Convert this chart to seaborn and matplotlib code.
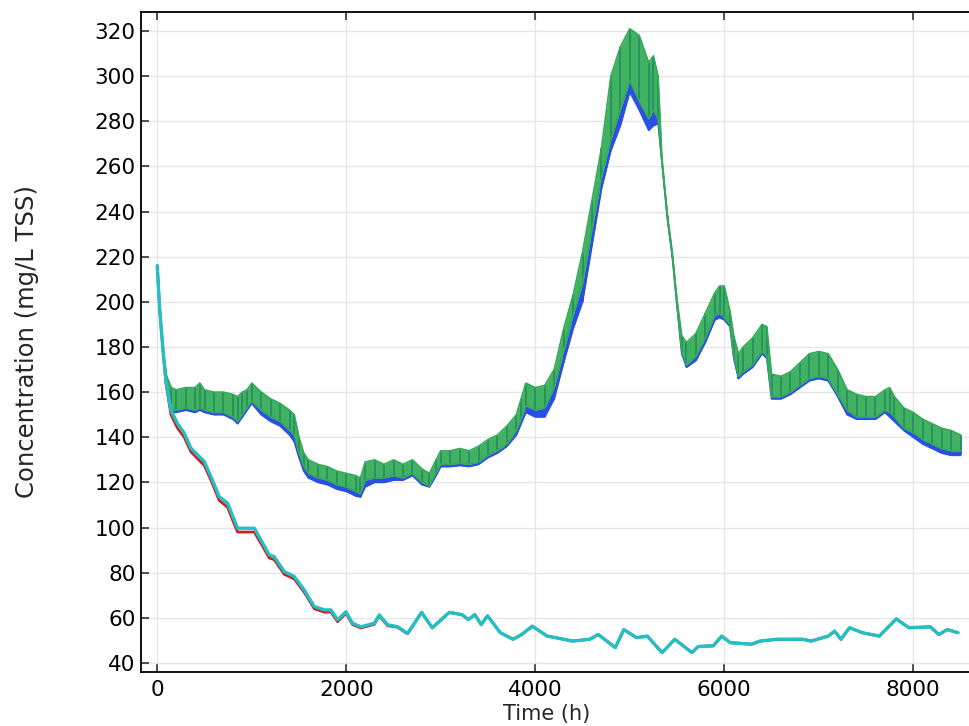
import matplotlib
matplotlib.use("Agg")
import matplotlib.pyplot as plt
import seaborn as sns

# lower pair (red / cyan)
times_low = [0, 25, 60, 92, 145, 215, 286, 357, 427, 498, 568, 656, 744, 815, 850, 921, 1027, 1097, 1185, 1238,
             1344, 1450, 1556, 1662, 1768, 1838, 1908, 1997, 2067, 2155, 2296, 2349, 2438, 2543, 2649, 2797, 2910, 3090, 3225, 3292,
             3360, 3428, 3495, 3630, 3765, 3856, 3968, 4126, 4216, 4396, 4576, 4667, 4847, 4937, 5072, 5185, 5342, 5477, 5657, 5725,
             5883, 5973, 6063, 6288, 6378, 6558, 6829, 6919, 7099, 7167, 7235, 7325, 7460, 7640, 7820, 7955, 8180, 8270, 8360, 8473]
cyan_vals = [216, 197, 179, 165, 152, 146, 141.8, 135.1, 132.2, 129.2, 122.6, 113.7, 110.8, 103.4, 99.7, 99.7, 99.7, 94.5, 87.9, 87.1,
             80.5, 78.3, 72.3, 65, 63.5, 63.5, 59.1, 62.7, 57.6, 56, 57.6, 61.3, 56.9, 56.1, 53.1, 62.4, 55.6, 62.4, 61.4, 59.2,
             61.4, 57, 60.9, 53.4, 50.5, 52.6, 56.3, 51.9, 51.2, 49.7, 50.5, 52.6, 46.8, 54.8, 51.2, 51.9, 44.6, 50.5, 44.6, 47.3,
             47.6, 51.9, 49, 48.3, 49.7, 50.5, 50.5, 49.7, 51.9, 54.1, 50.5, 55.6, 53.4, 51.9, 59.5, 55.6, 56, 52.6, 54.8, 53.4]
red_vals = [216, 197, 179, 164, 150, 144, 140, 133.5, 130.5, 127.5, 121, 112, 109, 101.5, 98, 98, 98, 93, 86.5, 85.8,
            79.3, 77.2, 71.3, 64, 62.5, 62.6, 58.3, 62, 57, 55.5, 57.1, 60.8, 56.5, 55.8, 52.9, 62.4, 55.6, 62.4, 61.4, 59.2,
            61.4, 57, 60.9, 53.4, 50.5, 52.6, 56.3, 51.9, 51.2, 49.7, 50.5, 52.6, 46.8, 54.8, 51.2, 51.9, 44.6, 50.5, 44.6, 47.3,
            47.6, 51.9, 49, 48.3, 49.7, 50.5, 50.5, 49.7, 51.9, 54.1, 50.5, 55.6, 53.4, 51.9, 59.5, 55.6, 56, 52.6, 54.8, 53.4]

# upper pair (blue / green): oscillation envelope
times_up = [0, 25, 60, 100, 150, 200, 300, 400, 450, 500, 600, 700, 800, 850, 900, 950, 1000, 1100, 1200, 1300,
            1400, 1450, 1500, 1550, 1600, 1700, 1800, 1900, 2000, 2100, 2150, 2200, 2300, 2400, 2500, 2600, 2700, 2800, 2880, 2950,
            3000, 3100, 3200, 3300, 3400, 3500, 3600, 3700, 3800, 3850, 3900, 4000, 4100, 4200, 4300, 4400, 4500, 4600, 4700, 4800,
            4900, 5000, 5100, 5200, 5250, 5300, 5340, 5400, 5450, 5500, 5550, 5600, 5700, 5800, 5900, 5950, 6000, 6060, 6100, 6150,
            6200, 6300, 6400, 6450, 6500, 6600, 6700, 6800, 6900, 7000, 7100, 7200, 7300, 7400, 7500, 7600, 7700, 7750, 7800, 7900,
            8000, 8100, 8200, 8300, 8400, 8500]
green_top = [216, 197, 179, 167, 162, 161, 162, 162, 164, 161, 160, 160, 159, 158, 160, 161, 164, 160, 157, 155,
             152, 150, 140, 133, 130, 128, 127, 125, 124, 123, 122, 129, 130, 128, 130, 128, 130, 126, 124, 130,
             134, 134, 135, 134, 136, 139, 141, 145, 150, 157, 164, 162, 163, 170, 188, 203, 222, 245, 268, 300,
             313, 321, 318, 306, 309, 300, 264, 238, 222, 201, 185, 182, 186, 195, 204, 207, 207, 196, 185, 177,
             180, 184, 190, 189, 168, 167, 169, 173, 177, 178, 177, 170, 161, 159, 158, 158, 161, 162, 158, 153,
             151, 148, 146, 144, 143, 141]
green_bot = [216, 197, 179, 164, 152, 152, 153, 152, 153, 152, 151, 151, 149, 147, 150, 153, 156, 152, 149, 147,
             143, 141, 133, 127, 124, 122, 121, 119, 118, 116, 115, 121, 122, 122, 123, 122, 124, 120, 118.5, 124,
             128, 128, 128.5, 128, 129, 132, 134, 137, 143, 148, 154, 152, 153, 162, 178, 194, 208, 232, 255, 272,
             285, 298, 289, 281, 285, 281, 262, 237, 221, 199, 178, 172, 176, 184, 194, 195, 193, 190, 176, 167,
             169, 172, 178, 176, 158, 158, 160, 163, 166, 167, 166, 159, 152, 149, 149, 149, 152, 151, 149, 144,
             142, 139, 137, 135, 134, 134]
blue_bot = [216, 197, 179, 164, 151, 151, 152, 151, 152, 151, 150, 150, 148, 146, 149, 152, 155, 150, 147, 145,
            141, 138, 131, 125, 122, 120, 119, 117, 116, 114, 113.5, 118, 120, 120, 121, 121, 123, 119, 118, 123,
            127, 127, 127.5, 127, 128, 131, 133, 136, 141, 146, 151, 149, 149, 157, 173, 188, 200, 225, 250, 267,
            278, 293, 285, 276, 278, 279, 262, 236, 220, 198, 177, 171, 174, 182, 192, 193, 192, 189, 175, 166,
            168, 171, 177, 175, 157, 157, 159, 162, 165, 166, 165, 158, 150, 148, 148, 148, 151, 149, 147, 143,
            140, 137, 135, 133, 132, 132]

x_ticks = [0, 2000, 4000, 6000, 8000]
y_ticks = list(range(40, 321, 20))

RED = "#cc2020"
CYAN = "#22c0c4"
BLUE = "#2a4fe6"
GREEN = "#36aa58"

sns.set_style("whitegrid")
plt.rcParams["font.family"] = ["DejaVu Sans"]

fig = plt.figure(figsize=(9.7, 7.26), dpi=100)
ax = fig.add_axes([141 / 970, 1 - 672 / 726, 1 - 141 / 970, 660 / 726])

# blue band (only its lower edge shows below green)
ax.fill_between(times_up, blue_bot, green_bot, color=BLUE, lw=0)
ax.vlines(times_up, blue_bot, green_top, color=BLUE, lw=1.2)
sns.lineplot(x=times_up, y=blue_bot, color=BLUE, lw=1.2, estimator=None, sort=False, ax=ax)

# green band with vertical strokes for the daily swings
ax.fill_between(times_up, green_bot, green_top, color="#40b262", lw=0)
ax.vlines(times_up, green_bot, green_top, color="#2a9c4c", lw=1.2)
sns.lineplot(x=times_up, y=green_top, color=GREEN, lw=1.2, estimator=None, sort=False, ax=ax)
sns.lineplot(x=times_up, y=green_bot, color=GREEN, lw=1.2, estimator=None, sort=False, ax=ax)

sns.lineplot(x=times_low, y=red_vals, color=RED, lw=2.0, estimator=None, sort=False, ax=ax)
sns.lineplot(x=times_low, y=cyan_vals, color=CYAN, lw=2.4, estimator=None, sort=False, ax=ax)

ax.set_xlim(-172, 8600)
ax.set_ylim(36, 328.4)
ax.set_xticks(x_ticks)
ax.set_yticks(y_ticks)
ax.grid(True, color="#e6e6e6", lw=1.0)
ax.set_axisbelow(True)

for side in ["left", "top", "bottom"]:
    ax.spines[side].set_color("black")
    ax.spines[side].set_linewidth(1.3)
    ax.spines[side].set_visible(True)
ax.spines["right"].set_visible(False)

ax.tick_params(axis="both", direction="in", length=6, width=1.2, color="#333333",
               labelsize=15.5, labelcolor="black", top=True, bottom=True, left=True, right=False)
ax.tick_params(axis="x", pad=6)
ax.tick_params(axis="y", pad=4)

ax.set_xlabel("Time (h)", fontsize=15)
ax.set_ylabel("Concentration (mg/L TSS)", fontsize=17.5)
ax.xaxis.set_label_coords(0.489, -0.064)
ax.yaxis.set_label_coords(-0.1375, 0.5)
ax.xaxis.label.set_va("center")
ax.yaxis.label.set_va("center")

fig.savefig("out.png", dpi=100)
